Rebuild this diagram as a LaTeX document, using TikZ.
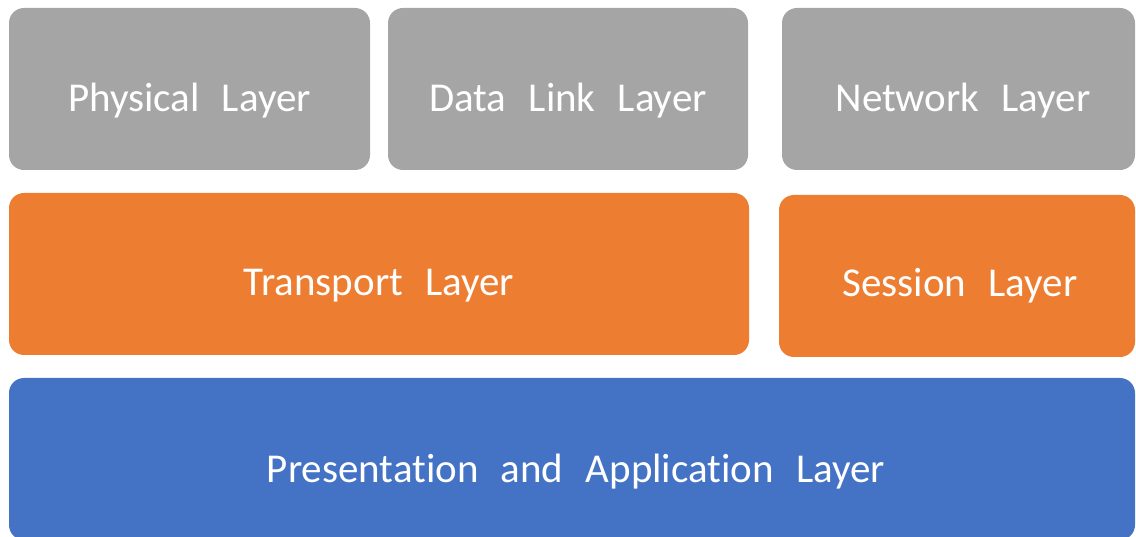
\documentclass[tikz,border=0pt]{standalone}
\usepackage{fontspec}
\setmainfont[WordSpace=2.4, Ligatures=NoCommon]{Carlito}
\definecolor{layergray}{HTML}{A5A5A5}
\definecolor{layerorange}{HTML}{ED7D31}
\definecolor{layerblue}{HTML}{4472C4}
\begin{document}
\begin{tikzpicture}[x=1pt,y=-1pt,
  layerbox/.style={rounded corners=15pt},
  lbl/.style={text=white, font=\fontsize{41}{49}\selectfont, anchor=base, inner sep=0pt}]
\useasboundingbox (0,0) rectangle (1136,537);
% boxes
\fill[layergray, layerbox] (9,8) rectangle (370,170);
\fill[layergray, layerbox] (388,8) rectangle (748,170);
\fill[layergray, layerbox] (782,8) rectangle (1135,170);
\fill[layerorange, layerbox] (9,193) rectangle (749,355);
\fill[layerorange, layerbox] (779,195) rectangle (1135,357);
\fill[layerblue, layerbox] (9,378) rectangle (1135,540);
% labels
\node[lbl] (phys) at (189.5,112) {Physical Layer};
\node[lbl] (dlink) at (568,112) {Data Link Layer};
\node[lbl] (net) at (963,112) {Network Layer};
\node[lbl] (trans) at (379,296) {Transport Layer};
\node[lbl] (sess) at (960,297) {Session Layer};
\node[lbl] (pres) at (576,482) {Presentation and Application Layer};
\end{tikzpicture}
\end{document}
